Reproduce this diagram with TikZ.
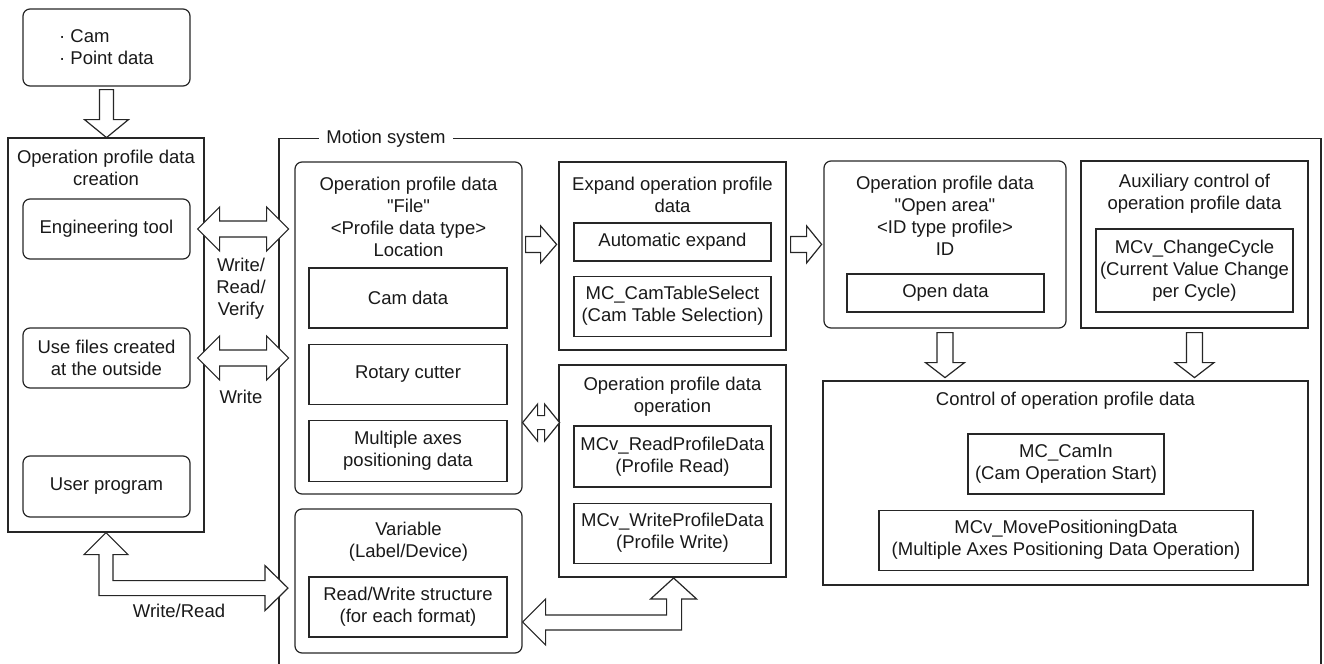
\documentclass[tikz,border=0pt]{standalone}
\usepackage{fontspec}
\setmainfont{Liberation Sans}[Ligatures=TeXOff]
\usetikzlibrary{positioning,calc}

\begin{document}
\begin{tikzpicture}[
    x=0.5pt, y=-0.5pt,
    font=\fontsize{9.25pt}{11pt}\selectfont,
    every node/.style={text=black!90},
    box/.style={draw=black!85, line width=0.6pt, rectangle, align=center, inner sep=0pt},
    rbox/.style={box, rounded corners=3.5pt},
    title/.style={align=center, inner sep=0pt},
    frame/.style={draw=black!85, line width=0.6pt},
    blk/.style={draw=black!85, line width=0.6pt, fill=white, line join=miter}
]
\useasboundingbox (0,0) rectangle (1324,664);

% creation side
\node[rbox, align=left, minimum width=83.5pt, minimum height=38.5pt] (cam) at (106.5,47.5) {· Cam\\· Point data};
\node[box, minimum width=98pt, minimum height=197pt] (creation) at (106,335) {};
\node[title] (creationtitle) at (106,168) {Operation profile data\\creation};
\node[rbox, minimum width=83.5pt, minimum height=30pt] (eng) at (106.5,229) {Engineering tool};
\node[rbox, minimum width=83.5pt, minimum height=30pt] (usefiles) at (106.5,358) {Use files created\\at the outside};
\node[rbox, minimum width=83.5pt, minimum height=30.5pt] (userprog) at (106.5,486.5) {User program};

% motion system frame
\draw[frame] (279,664) |- (1321,138.5) -- (1321,664);
\node[title, fill=white, inner xsep=3.75pt] (motion) at (386,139) {Motion system};

% file / variable
\node[rbox, minimum width=113.5pt, minimum height=166pt] (file) at (408.5,328) {};
\node[title] (filetitle) at (408.5,216.5) {Operation profile data\\"File"\\<Profile data type>\\Location};
\node[box, minimum width=99pt, minimum height=30pt] (camdata) at (408,298) {Cam data};
\node[box, minimum width=99pt, minimum height=30pt, below=7.5pt of camdata] (rotary) {Rotary cutter};
\node[box, minimum width=99pt, minimum height=30.5pt, below=7.5pt of rotary] (multi) {Multiple axes\\positioning data};

\node[rbox, minimum width=113.5pt, minimum height=72pt] (variable) at (408.5,581) {};
\node[title] (variabletitle) at (408.5,541.5) {Variable\\(Label/Device)};
\node[box, minimum width=99pt, minimum height=30pt] (rwstruct) at (408,607) {Read/Write structure\\(for each format)};

% expand / operation
\node[box, minimum width=113.5pt, minimum height=94pt] (expand) at (672.5,256) {};
\node[title] (expandtitle) at (672.5,194.5) {Expand operation profile\\data};
\node[box, minimum width=98.5pt, minimum height=19pt] (autoexp) at (672.5,242) {Automatic expand};
\node[box, minimum width=98.5pt, minimum height=30pt, below=7pt of autoexp] (camtab) {MC\_CamTableSelect\\(Cam Table Selection)};

\node[box, minimum width=113.5pt, minimum height=106pt] (profop) at (672.5,471) {};
\node[title] (profoptitle) at (672.5,397) {Operation profile data\\operation};
\node[box, minimum width=98.5pt, minimum height=30.5pt] (readpd) at (672.5,456.5) {MCv\_ReadProfileData\\(Profile Read)};
\node[box, minimum width=98.5pt, minimum height=30pt, below=7.5pt of readpd] (writepd) {MCv\_WriteProfileData\\(Profile Write)};

% open area / auxiliary
\node[rbox, minimum width=121pt, minimum height=83.5pt] (openarea) at (945,244.5) {};
\node[title] (openareatitle) at (945,215.5) {Operation profile data\\"Open area"\\<ID type profile>\\ID};
\node[box, minimum width=98.5pt, minimum height=19pt] (opendata) at (945.5,293) {Open data};

\node[box, minimum width=113.5pt, minimum height=83.5pt] (aux) at (1194.5,244.5) {};
\node[title] (auxtitle) at (1194.5,193.5) {Auxiliary control of\\operation profile data};
\node[box, minimum width=98.5pt, minimum height=41.5pt] (chgcyc) at (1194.5,270.5) {MCv\_ChangeCycle\\(Current Value Change\\per Cycle)};

% control
\node[box, minimum width=242.5pt, minimum height=102pt] (control) at (1065.5,483) {};
\node[title] (controltitle) at (1065.5,401) {Control of operation profile data};
\node[box, minimum width=98pt, minimum height=30pt] (camin) at (1066,464) {MC\_CamIn\\(Cam Operation Start)};
\node[box, minimum width=187pt, minimum height=30pt, below=7.5pt of camin] (movepd) {MCv\_MovePositioningData\\(Multiple Axes Positioning Data Operation)};

% block arrows
\draw[blk] ($(cam.south)+(-7,3)$) -- ++(0,30) -- ++(-15,0) -- ++(22,18) -- ++(22,-18) -- ++(-15,0) -- ++(0,-30) -- cycle;

\draw[blk] ($(eng.east)+(7,0)$) -- ++(22,-22) -- ++(0,14) -- ++(47,0) -- ++(0,-14) -- ++(22,22)
    -- ++(-22,22) -- ++(0,-14) -- ++(-47,0) -- ++(0,14) -- cycle;
\draw[blk] ($(usefiles.east)+(7,0)$) -- ++(22,-22) -- ++(0,14) -- ++(47,0) -- ++(0,-14) -- ++(22,22)
    -- ++(-22,22) -- ++(0,-14) -- ++(-47,0) -- ++(0,14) -- cycle;
\node[title] (wrvlabel) at (241,289) {Write/\\Read/\\Verify};
\node[title] (wlabel) at (241,397) {Write};

\draw[blk] (creation.south) -- ++(22,22) -- ++(-15,0) -- ++(0,26) -- ++(152,0) -- ++(0,-15) -- ++(23,22.5)
    -- ++(-23,22.5) -- ++(0,-15) -- ++(-166,0) -- ++(0,-41) -- ++(-15,0) -- cycle;
\node[title] (wrlabel) at (179,611) {Write/Read};

\draw[blk] ($(file.north east)+(3,75)$) -- ++(15,0) -- ++(0,-10.5) -- ++(16,18.5) -- ++(-16,18.5) -- ++(0,-10.5) -- ++(-15,0) -- cycle;
\draw[blk] ($(expand.north east)+(4,75)$) -- ++(16,0) -- ++(0,-10.5) -- ++(15,18.5) -- ++(-15,18.5) -- ++(0,-10.5) -- ++(-16,0) -- cycle;

\draw[blk] ($(file.south east)+(0,-72)$) -- ++(15,-18.5) -- ++(0,11.5) -- ++(7,0) -- ++(0,-11.5) -- ++(15,18.5)
    -- ++(-15,18.5) -- ++(0,-11.5) -- ++(-7,0) -- ++(0,11.5) -- cycle;

\draw[blk] ($(variable.east)+(0,41)$) -- ++(23,-23) -- ++(0,16) -- ++(121,0) -- ++(0,-16) -- ++(-16,0) -- ++(23,-21)
    -- ++(23,21) -- ++(-15,0) -- ++(0,31) -- ++(-136,0) -- ++(0,15) -- cycle;

\draw[blk] ($(openarea.south)+(-8,4)$) -- ++(0,30) -- ++(-11.5,0) -- ++(19.5,15) -- ++(19.5,-15) -- ++(-11.5,0) -- ++(0,-30) -- cycle;
\draw[blk] ($(aux.south)+(-8,4)$) -- ++(0,30) -- ++(-11.5,0) -- ++(19.5,15) -- ++(19.5,-15) -- ++(-11.5,0) -- ++(0,-30) -- cycle;
\end{tikzpicture}
\end{document}
